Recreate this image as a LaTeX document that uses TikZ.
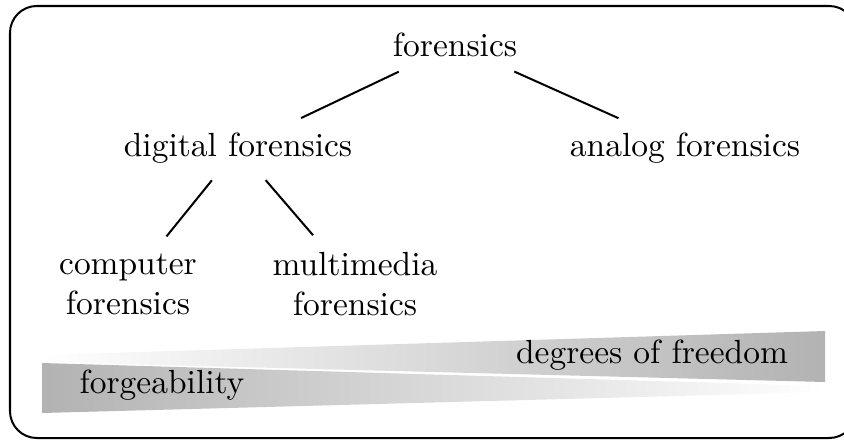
\documentclass[tikz,border=0pt]{standalone}
\begin{document}
\begin{tikzpicture} [x=.0105cm, y=-.0105cm, branch/.style={black, semithick, shorten <=2pt, shorten >=2pt}]
\useasboundingbox (0,0) rectangle (844,441);
\draw[black, semithick, rounded corners=8pt] (10,6) rectangle (856,438);
\node (forensics) at (455,45) {forensics};
\node (digital) at (238,148) {digital forensics};
\node (analog) at (685,148) {analog forensics};
\node[align=center] (computer) at (128,284) {computer\\forensics};
\node[align=center] (multimedia) at (355,284) {multimedia\\forensics};
\draw[branch] (forensics) -- (digital);
\draw[branch] (forensics) -- (analog);
\draw[branch] (digital) -- (computer);
\draw[branch] (digital) -- (multimedia);
\shade[left color=white, right color=black!30] (42,355) -- (825,331) -- (825,382) -- (42,362) -- cycle;
\shade[left color=black!30, right color=white] (42,363) -- (825,386) -- (825,392) -- (42,413) -- cycle;
\node (freedom) at (652,355) {degrees of freedom};
\node (forgeability) at (162,385) {forgeability};
\end{tikzpicture}
\end{document}
